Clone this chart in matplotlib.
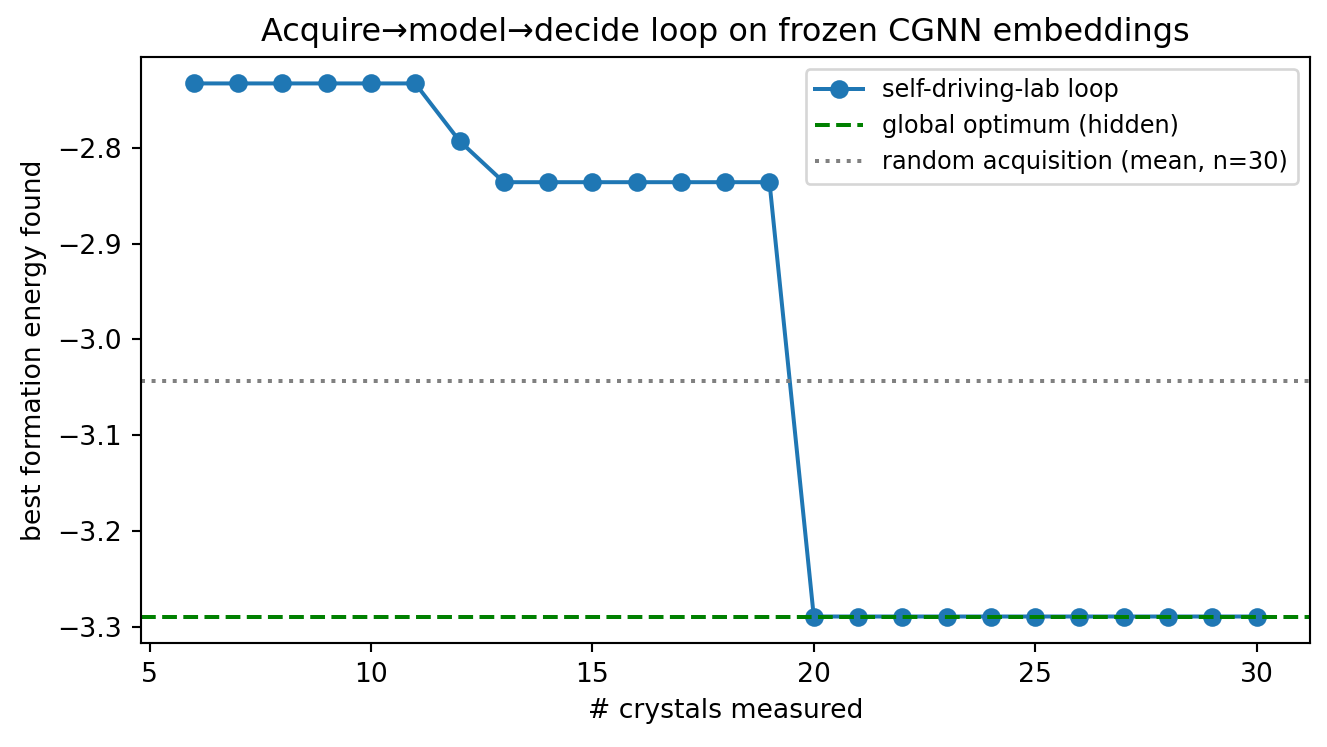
import numpy as np
import matplotlib.pyplot as plt

n_measured = list(range(6, 31))
best_energy = [-2.733] * 6 + [-2.793] + [-2.836] * 7 + [-3.289] * 11
global_opt = -3.289
random_mean = -3.043

DPI = 191.6
fig, ax = plt.subplots(figsize=(1327 / DPI, 747 / DPI), dpi=DPI)
ax.plot(n_measured, best_energy, 'o-', color='#1f77b4', label='self-driving-lab loop')
ax.axhline(global_opt, color='green', ls='--', label='global optimum (hidden)')
ax.axhline(random_mean, color='gray', ls=':', label='random acquisition (mean, n=30)')
ax.set_xlabel('# crystals measured')
ax.set_ylabel('best formation energy found')
ax.set_title('Acquire→model→decide loop on frozen CGNN embeddings')
ax.legend(loc='upper right', fontsize=9)
fig.subplots_adjust(left=0.106, right=0.987, top=0.924, bottom=0.139)
fig.savefig('out.png', dpi=DPI)
